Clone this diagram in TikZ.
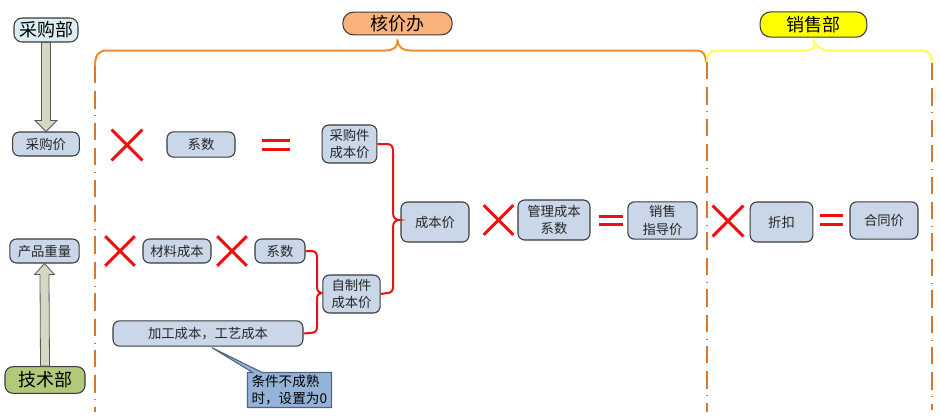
\documentclass[tikz,border=0pt]{standalone}
\usepackage{fontspec}
\setmainfont{Noto Sans CJK SC}
\usetikzlibrary{calc,positioning,shapes.misc,shapes.callouts}
\definecolor{boxfill}{HTML}{C9D7E8}
\definecolor{boxline}{HTML}{3A3A3A}
\definecolor{deptblue}{HTML}{DAEEF3}
\definecolor{deptgreen}{HTML}{B1C97B}
\definecolor{hjorange}{HTML}{FAB17A}
\definecolor{lineorange}{HTML}{F28A30}
\definecolor{dashorange}{HTML}{D6782E}
\definecolor{xsyellow}{HTML}{FFFF00}
\definecolor{braceyellow}{HTML}{FFFF55}
\definecolor{notefill}{HTML}{95B3D7}
\definecolor{noteline}{HTML}{4F6584}
\definecolor{markred}{HTML}{EE1111}
\definecolor{arrowfill}{HTML}{D7D8C3}
\tikzset{
  box/.style={draw=boxline,fill=boxfill,rounded corners=5pt,line width=0.8pt,align=center,inner sep=1pt,text=black!85,font=\fontsize{10}{13}\selectfont},
  dept/.style={draw=boxline,rounded corners=6pt,line width=0.8pt,inner sep=1pt,font=\fontsize{13.5}{15}\selectfont},
  office/.style={draw=boxline,rounded corners=8pt,line width=0.8pt,inner sep=1pt,font=\fontsize{13.5}{15}\selectfont},
  timesmark/.style={cross out,draw=markred,line width=2.2pt,minimum size=#1,inner sep=0pt},
  timesmark/.default=20pt,
  eqmark/.style={minimum width=#1,minimum height=12pt,inner sep=0pt,path picture={
    \draw[markred,line width=2.2pt] ([yshift=3.2pt]path picture bounding box.west) -- ([yshift=3.2pt]path picture bounding box.east)
      ([yshift=-3.2pt]path picture bounding box.west) -- ([yshift=-3.2pt]path picture bounding box.east);}},
  eqmark/.default=18pt,
  brace/.style={draw=markred,line width=1.5pt},
  bigarrow/.style={fill=arrowfill,draw=black!65,line width=0.6pt},
  zoneline/.style={dashorange,line width=2pt,dash pattern=on 13pt off 6pt on 13pt off 5pt on 0.6pt off 5pt},
  note/.style={rectangle callout,fill=notefill,draw=noteline,line width=0.8pt,align=left,text width=57pt,inner xsep=3pt,inner ysep=2pt,font=\fontsize{10.2}{12.5}\selectfont}
}

\begin{document}
\begin{tikzpicture}[x=0.75pt,y=-0.75pt]
  \useasboundingbox (0,0) rectangle (940,415);

  % departments and offices
  \node[dept,fill=deptblue,minimum width=48pt,minimum height=18pt] (cgb) at (46,30) {采购部};
  \node[dept,fill=deptgreen,minimum width=60pt,minimum height=20pt] (jsb) at (45,380) {技术部};
  \node[office,fill=hjorange,minimum width=82pt,minimum height=17pt] (hjb) at (397.5,23.5) {核价办};
  \node[office,fill=xsyellow,minimum width=80pt,minimum height=19pt] (xsb) at (813.5,24.5) {销售部};

  % inputs
  \node[box,minimum width=50pt,minimum height=18pt] (cgj) at (46,144) {采购价};
  \node[box,minimum width=52pt,minimum height=18pt] (cpzl) at (44.5,251) {产品重量};

  % purchased parts
  \node[timesmark=21pt] (x1) at (127,145) {};
  \node[box,minimum width=51pt,minimum height=19pt] (xs1) at (201,144.5) {系数};
  \node[eqmark=21pt] (e1) at (276,145) {};
  \node[box,minimum width=41pt,minimum height=28.5pt] (cgjcb) at (349.5,144) {采购件\\成本价};

  % self-made parts
  \node[timesmark] (x2) at (120,251) {};
  \node[box,minimum width=51pt,minimum height=18pt] (clcb) at (177,251) {材料成本};
  \node[timesmark] (x3) at (232,251) {};
  \node[box,minimum width=37.5pt,minimum height=18pt] (xs2) at (280,251) {系数};
  \node[box,minimum width=142.5pt,minimum height=19pt] (jggy) at (208,333.5) {加工成本，工艺成本};
  \node[box,minimum width=43pt,minimum height=28.5pt] (zzjcb) at (351.5,294) {自制件\\成本价};
  \node[note,callout absolute pointer={($(jggy.south)+(4,1)$)}] (tj) at (289.5,390) {条件不成熟\\时，设置为0};

  % pricing
  \node[box,minimum width=51pt,minimum height=30pt] (cbj) at (435,222) {成本价};
  \node[timesmark] (x4) at (498.5,220) {};
  \node[box,minimum width=54pt,minimum height=30pt] (glxs) at (554,220) {管理成本\\系数};
  \node[eqmark] (e2) at (611,220.5) {};
  \node[box,minimum width=52pt,minimum height=28pt] (xszd) at (662.5,220.5) {销售\\指导价};
  \node[timesmark=21pt] (x5) at (728,221) {};
  \node[box,minimum width=47pt,minimum height=30pt] (zk) at (781.5,222) {折扣};
  \node[eqmark=17pt] (e3) at (831.5,220) {};
  \node[box,minimum width=51pt,minimum height=28pt] (htj) at (884,220.5) {合同价};

  % big arrows
  \draw[bigarrow] ($(cgb.south)+(-4.5,0)$) -- ($(cgj.north)+(-4.5,-11)$) -- ($(cgj.north)+(-11,-11)$) -- (cgj.north)
    -- ($(cgj.north)+(11,-11)$) -- ($(cgj.north)+(4.5,-11)$) -- ($(cgb.south)+(4.5,0)$) -- cycle;
  \draw[bigarrow] ($(jsb.north)+(-4.5,0)$) -- ($(cpzl.south)+(-4.5,11)$) -- ($(cpzl.south)+(-10,11)$) -- (cpzl.south)
    -- ($(cpzl.south)+(10,11)$) -- ($(cpzl.south)+(4.5,11)$) -- ($(jsb.north)+(4.5,0)$) -- cycle;

  % braces
  \draw[brace] (cgjcb.east) -- (387,144) .. controls (391,144) and (393,146) .. (393,151) -- (393,213)
    .. controls (393,218) and (396,220) .. ($(cbj.west)+(-1,-2)$) .. controls (396,220) and (393,222) .. (393,227)
    -- (393,287) .. controls (393,291) and (391,293) .. (387,293) -- (zzjcb.east);
  \draw[brace] (xs2.east) -- (311,251) .. controls (315,251) and (317,253) .. (317,257) -- (317,287)
    .. controls (317,291) and (319,293) .. ($(zzjcb.west)+(-1,-1)$) .. controls (319,293) and (317,295) .. (317,299)
    -- (317,327) .. controls (317,331) and (315,333) .. (310,333) -- (jggy.east);

  % zones
  \draw[lineorange,line width=1.5pt] (95,66) .. controls (95,56) and (98,50.5) .. (107,50.5) -- (385,50.5)
    .. controls (394,50.5) and (398,47) .. ($(hjb.south)+(0,4)$) .. controls (398,47) and (402,50.5) .. (411,50.5)
    -- (697,50.5) .. controls (703,50.5) and (706,55) .. (706,62);
  \draw[braceyellow,line width=1.5pt] (707,62) .. controls (707,55) and (710,50.5) .. (717,50.5) -- (805,50.5)
    .. controls (813,50.5) and (817,47) .. ($(xsb.south)+(0,2)$) .. controls (817,47) and (821,50.5) .. (829,50.5)
    -- (922,50.5) .. controls (929,50.5) and (932,55) .. (932,63);
  \draw[zoneline] (95,66) -- (95,412);
  \draw[zoneline] (707,62) -- (707,412);
  \draw[zoneline] (932,63) -- (932,410);
\end{tikzpicture}
\end{document}
